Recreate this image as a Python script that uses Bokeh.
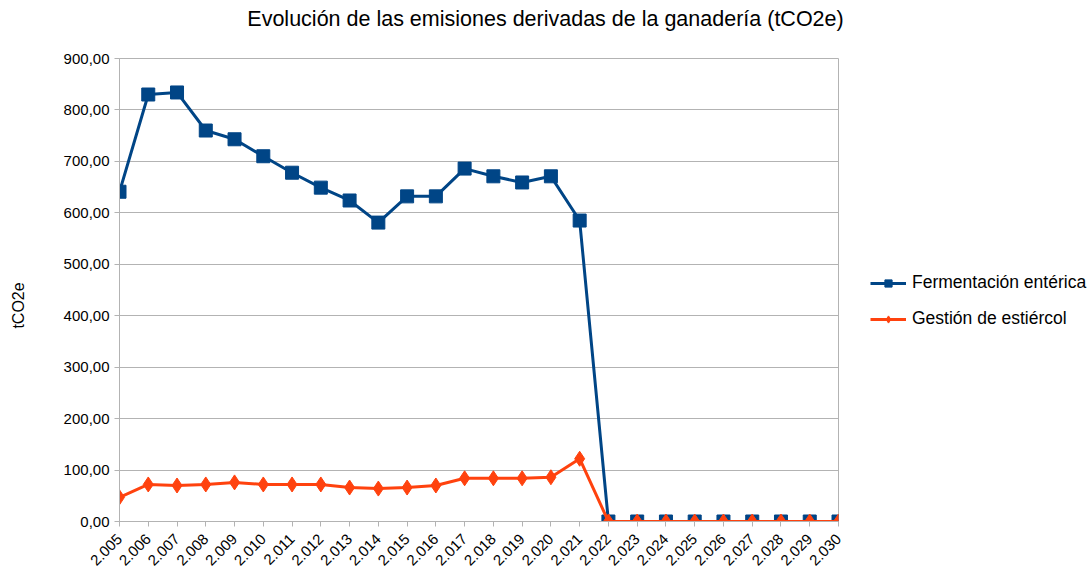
from bokeh.plotting import figure
from bokeh.models import Range1d, FixedTicker, Legend, LegendItem, Label, ColumnDataSource
from bokeh.layouts import row, column
from bokeh.embed import file_html
from bokeh.resources import INLINE
import math

years = list(range(2005, 2031))
year_labels = ["2.%03d" % (y - 2000) for y in years]
fermentacion = [641, 830, 834, 760, 743, 710, 678, 649, 624, 581, 632, 632, 686, 671, 659, 671, 585,
                0, 0, 0, 0, 0, 0, 0, 0, 0]
gestion = [47, 72, 70, 72, 76, 72, 72, 72, 66, 64, 66, 70, 84, 84, 84, 86, 122,
           0, 0, 0, 0, 0, 0, 0, 0, 0]
y_ticks = [0, 100, 200, 300, 400, 500, 600, 700, 800, 900]
y_tick_labels = ["0,00", "100,00", "200,00", "300,00", "400,00", "500,00", "600,00", "700,00", "800,00", "900,00"]
series_names = ["Fermentación entérica", "Gestión de estiércol"]
y_title = "tCO2e"
chart_title = "Evolución de las emisiones derivadas de la ganadería (tCO2e)"

FONT = "Liberation Sans"
BLUE = "#004586"
ORANGE = "#ff420e"
GRID = "#b3b3b3"

src = ColumnDataSource(dict(x=years, f=fermentacion, g=gestion))

WT = 1089
HT = 36
H = 575 - HT
W0 = 40
W1 = 850 - W0
W2 = WT - W0 - W1


def blank(width, height):
    f = figure(width=width, height=height, output_backend="svg", toolbar_location=None,
               x_axis_type=None, y_axis_type=None, x_range=Range1d(0, 1), y_range=Range1d(0, 1),
               min_border=0)
    f.outline_line_color = None
    f.xgrid.visible = False
    f.ygrid.visible = False
    f.border_fill_color = "white"
    return f


# title strip
t = blank(WT, HT)
t.add_layout(Label(x=545, y=18, x_units="screen", y_units="screen", text=chart_title,
                   text_align="center", text_baseline="middle",
                   text_font=FONT, text_font_size="21.5px", text_color="#000000"))

# y-axis title panel
q0 = blank(W0, H)
q0.add_layout(Label(x=18, y=216, x_units="screen", y_units="screen", text=y_title,
                    angle=math.pi / 2, text_align="center", text_baseline="middle",
                    text_font=FONT, text_font_size="16px", text_color="#000000"))

p = figure(width=W1, height=H, output_backend="svg", toolbar_location=None,
           x_range=Range1d(2005, 2030), y_range=Range1d(0, 900),
           min_border_left=119 - W0, min_border_right=W0 + W1 - 838, min_border_top=58 - HT,
           min_border_bottom=575 - 521)

p.xgrid.visible = False
p.ygrid.grid_line_color = GRID
p.ygrid.grid_line_width = 1
p.outline_line_color = GRID
p.background_fill_color = "white"
p.border_fill_color = "white"

p.xaxis.ticker = FixedTicker(ticks=years)
p.xaxis.major_label_overrides = {y: l for y, l in zip(years, year_labels)}
p.xaxis.major_label_orientation = math.pi / 4
p.yaxis.ticker = FixedTicker(ticks=y_ticks)
p.yaxis.major_label_overrides = {tk: l for tk, l in zip(y_ticks, y_tick_labels)}
for ax in (p.xaxis, p.yaxis):
    ax.axis_line_color = GRID
    ax.major_tick_line_color = GRID
    ax.minor_tick_line_color = None
    ax.major_tick_out = 5
    ax.major_tick_in = 0
    ax.major_label_text_font = FONT
    ax.major_label_text_font_size = "15px"
    ax.major_label_text_color = "#000000"
p.xaxis.major_label_standoff = 10

p.line("x", "f", source=src, line_color=BLUE, line_width=3)
p.scatter("x", "f", source=src, marker="square", size=13, fill_color=BLUE, line_color=BLUE)
p.line("x", "g", source=src, line_color=ORANGE, line_width=3)
p.scatter("x", "g", source=src, marker="diamond", size=15, fill_color=ORANGE, line_color=ORANGE)

# legend panel (legend glyph renderers sit outside the visible range)
q = blank(W2, H)
ql1 = q.line(x=[5, 6], y=[5, 6], line_color=BLUE, line_width=3)
qm1 = q.scatter(x=[5, 6], y=[5, 6], marker="square", size=8, fill_color=BLUE, line_color=BLUE)
ql2 = q.line(x=[5, 6], y=[5, 6], line_color=ORANGE, line_width=3)
qm2 = q.scatter(x=[5, 6], y=[5, 6], marker="diamond", size=10, fill_color=ORANGE, line_color=ORANGE)
legend = Legend(items=[LegendItem(label=series_names[0], renderers=[ql1, qm1]),
                       LegendItem(label=series_names[1], renderers=[ql2, qm2])],
                location=(870 - W0 - W1, 192), border_line_color=None, background_fill_alpha=0,
                label_text_font=FONT, label_text_font_size="17.5px", label_text_color="#000000",
                glyph_width=36, glyph_height=18, spacing=15, padding=0, margin=0,
                label_standoff=6)
q.add_layout(legend, "center")

open("out.html", "w").write(file_html(column(t, row(q0, p, q)), INLINE))
